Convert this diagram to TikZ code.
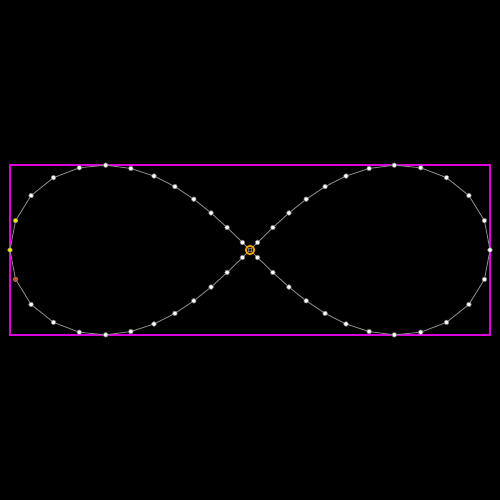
\documentclass[tikz,border=0pt]{standalone}
\definecolor{frame}{RGB}{220,0,220}
\definecolor{hired}{RGB}{225,75,20}
\definecolor{hiyel}{RGB}{245,235,0}
\definecolor{ring}{RGB}{240,160,0}
\definecolor{linkc}{RGB}{135,135,135}
\definecolor{edgec}{RGB}{120,120,120}
\begin{document}
\begin{tikzpicture}[x=1pt,y=-1pt,
  dot/.style={circle,fill=white,draw=edgec,line width=0.6pt,inner sep=0pt,minimum size=4.6pt},
  link/.style={draw=linkc,line width=0.9pt},
  box/.style={draw=frame,line width=1.6pt}]
\fill[black] (0,0) rectangle (500,500);
\useasboundingbox (0,0) rectangle (500,500);
\draw[box] (10,165) rectangle (490,335);
\foreach \k in {0,...,49}{
  \pgfmathsetmacro\myang{7.2*\k}
  \pgfmathsetmacro\myden{1+sin(\myang)*sin(\myang)}
  \pgfmathsetmacro\myx{250+240*cos(\myang)/\myden}
  \pgfmathsetmacro\myy{250+240*sin(\myang)*cos(\myang)/\myden}
  \coordinate (c\k) at (\myx,\myy);
}
\foreach \k [evaluate=\k as \n using {int(mod(\k+1,50))}] in {0,...,49}
  \draw[link] (c\k) -- (c\n);
\foreach \k in {0,...,49}{
  \def\fc{white}
  \ifnum\k=24 \def\fc{hiyel}\fi
  \ifnum\k=25 \def\fc{hiyel}\fi
  \ifnum\k=26 \def\fc{hired}\fi
  \node[dot,fill=\fc] (p\k) at (c\k) {};
}
\node[circle,draw=ring,line width=1.8pt,minimum size=8.5pt,inner sep=0pt] (ctr) at (250,250) {};
\node[circle,fill=black,draw=edgec,line width=0.7pt,minimum size=3.8pt,inner sep=0pt] (ctrdot) at (250,250) {};
\end{tikzpicture}
\end{document}
